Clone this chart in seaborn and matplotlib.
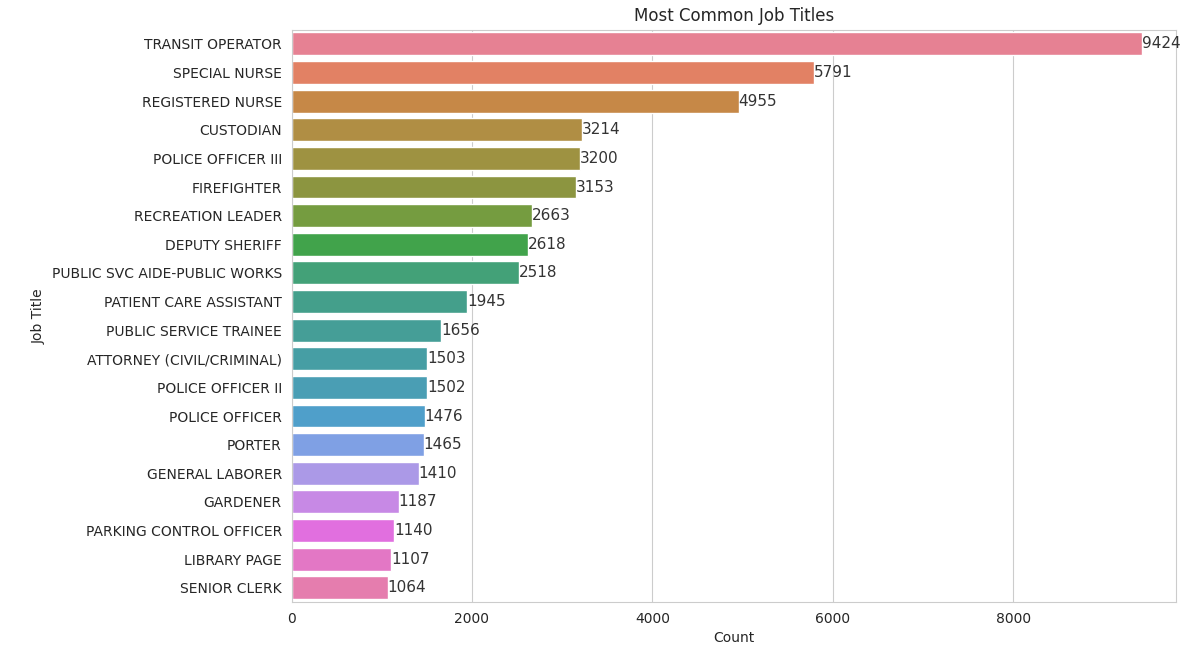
import matplotlib
matplotlib.use("Agg")
import matplotlib.pyplot as plt
import pandas as pd
import seaborn as sns

titles = [
    "TRANSIT OPERATOR", "SPECIAL NURSE", "REGISTERED NURSE", "CUSTODIAN",
    "POLICE OFFICER III", "FIREFIGHTER", "RECREATION LEADER", "DEPUTY SHERIFF",
    "PUBLIC SVC AIDE-PUBLIC WORKS", "PATIENT CARE ASSISTANT",
    "PUBLIC SERVICE TRAINEE", "ATTORNEY (CIVIL/CRIMINAL)", "POLICE OFFICER II",
    "POLICE OFFICER", "PORTER", "GENERAL LABORER", "GARDENER",
    "PARKING CONTROL OFFICER", "LIBRARY PAGE", "SENIOR CLERK",
]
counts = [9424, 5791, 4955, 3214, 3200, 3153, 2663, 2618, 2518, 1945,
          1656, 1503, 1502, 1476, 1465, 1410, 1187, 1140, 1107, 1064]

df = pd.DataFrame({"Job Title": titles, "Count": counts})

sns.set_style("whitegrid")
fig, ax = plt.subplots(figsize=(11.9, 6.58), dpi=100)
fig.subplots_adjust(left=0.245, right=0.988, top=0.955, bottom=0.085)

sns.barplot(data=df, x="Count", y="Job Title", hue="Job Title",
            palette=sns.color_palette("husl", len(titles)), legend=False, ax=ax)

for i, c in enumerate(counts):
    ax.text(c, i, str(c), va="center", ha="left", fontsize=11, color="#333333")

ax.set_title("Most Common Job Titles")
ax.set_xlim(0, 9800)
plt.savefig("out.png", dpi=100)
